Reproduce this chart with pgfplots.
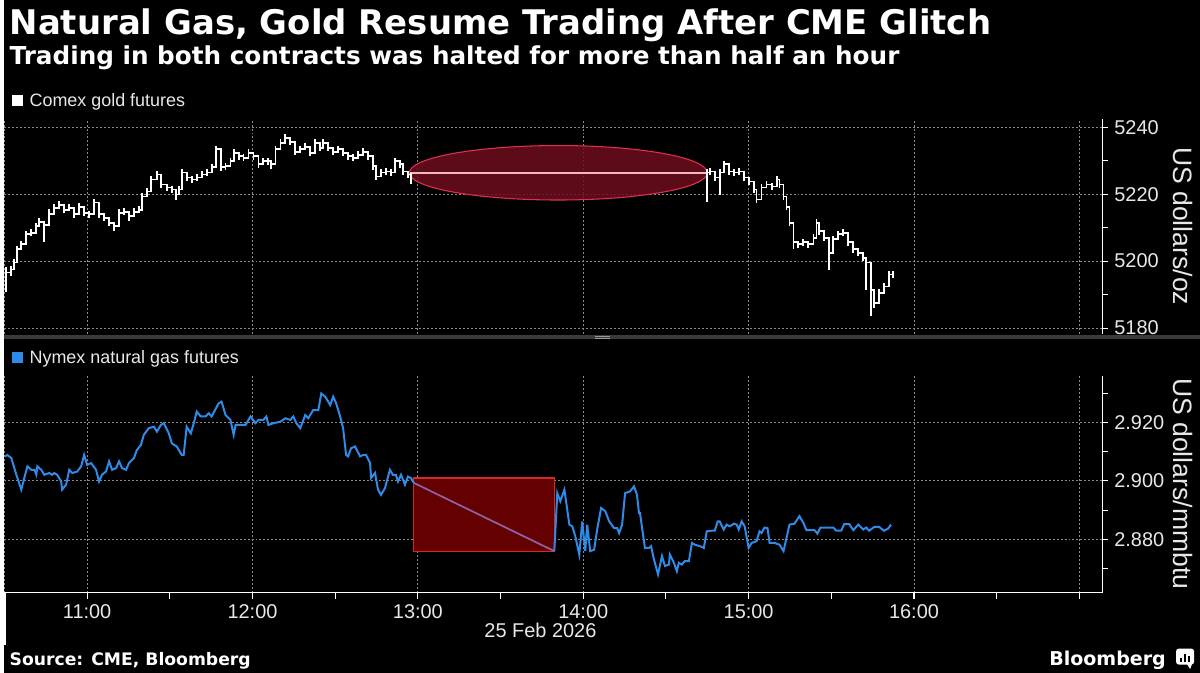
\documentclass[border=0pt]{standalone}
\usepackage{fontspec}
\setmainfont{Liberation Sans}
\newfontfamily\titlefont{DejaVu Sans}
\usepackage{pgfplots}
\usepackage{pgfplotstable}
\pgfplotsset{compat=1.18}
\definecolor{gasblue}{HTML}{2E8BE8}
\definecolor{gridc}{HTML}{8A8A8A}
\definecolor{haltfill}{HTML}{650000}
\definecolor{haltedge}{HTML}{D42A2A}
\definecolor{diag}{HTML}{8E62A8}
\definecolor{ellfill}{HTML}{6E0E1E}
\definecolor{elledge}{HTML}{E03050}
\definecolor{ellline}{HTML}{F5B5C0}
\definecolor{sepc}{HTML}{3A3A3A}
\definecolor{txt}{HTML}{E8E8E8}

\pgfplotstableread{
t c em ep
10.510 5196.6 5.9 1.5
10.540 5197.5 2.0 1.0
10.560 5199.6 1.5 1.0
10.578 5203.5 1.5 1.0
10.602 5205.0 1.0 1.0
10.633 5208.0 1.5 1.0
10.663 5208.5 1.0 1.0
10.693 5210.4 1.0 1.0
10.711 5211.8 1.0 1.0
10.741 5210.9 5.3 1.0
10.771 5214.0 1.0 1.5
10.801 5216.0 1.0 1.0
10.831 5216.9 1.0 1.0
10.861 5215.4 1.0 1.0
10.892 5216.0 1.0 1.0
10.922 5214.0 1.0 1.0
10.952 5216.3 1.0 1.0
10.982 5214.5 1.0 1.0
11.012 5214.0 1.0 1.0
11.042 5217.5 1.0 1.0
11.072 5214.0 1.0 1.0
11.102 5213.0 1.0 1.0
11.133 5211.5 1.0 1.0
11.163 5210.4 1.5 1.0
11.193 5214.5 1.0 1.0
11.223 5214.8 1.0 1.0
11.253 5213.4 1.5 1.0
11.283 5214.8 1.0 1.0
11.313 5215.4 1.0 1.0
11.331 5219.3 1.0 1.0
11.361 5220.8 1.0 1.0
11.386 5224.4 1.0 1.0
11.422 5225.9 1.0 1.0
11.446 5222.9 1.0 1.0
11.482 5222.0 1.0 1.0
11.512 5221.4 1.0 1.0
11.536 5219.9 1.5 1.0
11.554 5221.4 1.0 1.0
11.572 5226.5 1.0 1.0
11.602 5225.0 1.0 1.0
11.633 5224.4 1.0 1.0
11.663 5225.0 1.0 1.0
11.693 5225.9 1.0 1.0
11.723 5226.5 1.0 1.0
11.753 5228.0 1.0 1.0
11.777 5233.4 1.0 1.0
11.807 5228.0 1.0 1.0
11.837 5228.3 1.0 1.0
11.867 5229.8 1.0 1.0
11.886 5232.4 1.0 1.0
11.916 5231.3 1.0 1.0
11.946 5230.9 1.0 1.0
11.976 5232.4 1.0 1.0
12.006 5231.3 1.0 1.0
12.036 5228.9 1.0 1.0
12.066 5229.8 1.0 1.0
12.096 5229.8 1.0 1.0
12.114 5228.9 1.5 1.0
12.139 5233.4 1.0 1.0
12.169 5235.4 1.0 1.0
12.199 5236.9 1.0 1.0
12.229 5235.7 1.0 1.0
12.259 5232.7 1.0 1.0
12.289 5233.4 1.0 1.0
12.319 5234.2 1.0 1.0
12.349 5232.4 1.0 1.0
12.380 5235.4 1.0 1.0
12.410 5233.9 1.0 1.0
12.428 5235.4 1.0 1.0
12.458 5233.9 1.0 1.0
12.488 5232.7 1.0 1.0
12.518 5233.4 1.0 1.0
12.548 5232.4 1.0 1.0
12.578 5231.3 1.0 1.0
12.608 5230.9 1.0 1.0
12.639 5231.8 1.0 1.0
12.669 5232.7 1.0 1.0
12.699 5231.3 1.0 1.0
12.729 5228.3 1.0 1.0
12.747 5225.3 1.0 1.0
12.777 5226.5 1.0 1.0
12.807 5226.8 1.0 1.0
12.837 5226.5 1.0 1.0
12.861 5229.8 1.0 1.0
12.892 5228.9 1.0 1.0
12.910 5226.8 1.0 1.0
12.940 5225.9 1.0 1.0
12.958 5225.3 2.4 1.0
}\goldA

\pgfplotstableread{
t c em ep
14.747 5226.5 8.7 1.0
14.765 5226.8 1.0 1.0
14.795 5225.0 1.0 1.0
14.825 5226.5 6.6 1.0
14.849 5228.9 1.0 1.0
14.880 5226.8 1.0 1.0
14.910 5226.5 1.0 1.0
14.940 5226.8 1.0 1.0
14.970 5225.0 1.0 1.0
15.000 5223.8 1.0 1.0
15.030 5221.4 1.0 1.0
15.048 5218.4 1.0 1.0
15.078 5222.0 1.0 1.0
15.108 5222.9 1.0 1.0
15.139 5222.3 1.0 1.0
15.169 5224.4 1.0 1.0
15.187 5222.9 1.0 1.0
15.211 5219.3 1.0 1.0
15.229 5216.3 1.0 1.0
15.247 5211.5 1.0 1.0
15.271 5205.6 2.0 1.0
15.301 5205.0 1.0 1.0
15.331 5205.6 1.0 1.0
15.361 5205.0 1.0 1.0
15.392 5207.0 1.0 1.0
15.410 5211.5 1.0 1.0
15.428 5208.9 1.0 1.0
15.458 5207.0 1.0 1.0
15.488 5202.5 5.0 1.0
15.512 5206.5 1.0 1.0
15.542 5208.0 1.0 1.0
15.572 5208.5 1.0 1.0
15.602 5205.6 1.0 1.0
15.633 5203.5 1.0 1.0
15.663 5202.5 1.0 1.0
15.693 5201.0 1.0 1.0
15.711 5199.6 8.1 1.0
15.741 5191.5 8.0 1.0
15.759 5187.6 1.5 1.0
15.789 5190.6 1.0 1.0
15.819 5192.4 1.0 1.0
15.849 5196.0 1.0 1.0
15.873 5196.0 1.0 1.0
}\goldB

\pgfplotstableread{
t p
10.500 2.9084
10.518 2.9089
10.542 2.9078
10.572 2.9021
10.602 2.8970
10.620 2.9010
10.639 2.9050
10.663 2.9038
10.681 2.9038
10.693 2.9021
10.699 2.9050
10.723 2.9038
10.741 2.9021
10.771 2.9027
10.789 2.9021
10.801 2.9027
10.819 2.9021
10.843 2.8998
10.849 2.8970
10.873 2.8987
10.892 2.9038
10.910 2.9027
10.940 2.9032
10.964 2.9050
10.982 2.9089
11.000 2.9055
11.024 2.9061
11.054 2.9038
11.072 2.8998
11.090 2.9021
11.114 2.9032
11.133 2.9067
11.151 2.9038
11.175 2.9044
11.193 2.9067
11.211 2.9044
11.235 2.9038
11.253 2.9061
11.283 2.9078
11.301 2.9106
11.325 2.9123
11.343 2.9158
11.373 2.9181
11.404 2.9186
11.422 2.9169
11.446 2.9192
11.464 2.9198
11.494 2.9163
11.512 2.9129
11.542 2.9118
11.572 2.9089
11.584 2.9089
11.602 2.9186
11.627 2.9163
11.645 2.9198
11.663 2.9238
11.687 2.9221
11.717 2.9221
11.735 2.9232
11.753 2.9221
11.795 2.9266
11.813 2.9272
11.837 2.9226
11.867 2.9209
11.886 2.9158
11.898 2.9192
11.928 2.9192
11.958 2.9192
11.988 2.9221
12.018 2.9198
12.036 2.9209
12.066 2.9209
12.084 2.9221
12.096 2.9192
12.127 2.9198
12.169 2.9203
12.199 2.9215
12.229 2.9209
12.247 2.9221
12.265 2.9198
12.289 2.9181
12.319 2.9226
12.337 2.9215
12.367 2.9243
12.398 2.9243
12.416 2.9300
12.440 2.9289
12.470 2.9260
12.488 2.9289
12.506 2.9266
12.530 2.9221
12.548 2.9181
12.566 2.9089
12.578 2.9084
12.596 2.9112
12.620 2.9118
12.651 2.9084
12.669 2.9089
12.687 2.9089
12.711 2.9061
12.717 2.9010
12.741 2.9027
12.759 2.8970
12.777 2.8952
12.801 2.8975
12.831 2.9038
12.849 2.9021
12.867 2.9021
12.880 2.8998
12.898 2.9021
12.922 2.8987
12.940 2.9015
12.958 2.9010
12.976 2.8993
}\gasA

\pgfplotstableread{
t p
13.825 2.8759
13.843 2.8958
13.861 2.8930
13.886 2.8970
13.916 2.8850
13.934 2.8844
13.952 2.8810
13.976 2.8747
13.994 2.8861
14.012 2.8759
14.024 2.8850
14.042 2.8759
14.066 2.8764
14.084 2.8833
14.108 2.8907
14.133 2.8896
14.157 2.8861
14.187 2.8838
14.205 2.8838
14.217 2.8821
14.235 2.8850
14.253 2.8958
14.283 2.8964
14.307 2.8981
14.325 2.8952
14.337 2.8890
14.343 2.8890
14.373 2.8770
14.398 2.8770
14.410 2.8776
14.428 2.8730
14.452 2.8679
14.476 2.8742
14.494 2.8708
14.518 2.8713
14.524 2.8747
14.548 2.8719
14.566 2.8690
14.578 2.8719
14.596 2.8713
14.614 2.8725
14.639 2.8725
14.657 2.8787
14.675 2.8781
14.705 2.8776
14.729 2.8770
14.747 2.8827
14.777 2.8829
14.795 2.8829
14.813 2.8861
14.825 2.8861
14.849 2.8833
14.867 2.8850
14.886 2.8844
14.910 2.8853
14.928 2.8850
14.940 2.8833
14.958 2.8861
14.976 2.8844
15.000 2.8770
15.018 2.8787
15.048 2.8793
15.066 2.8827
15.078 2.8821
15.096 2.8840
15.114 2.8838
15.127 2.8787
15.157 2.8787
15.187 2.8781
15.211 2.8759
15.229 2.8804
15.247 2.8850
15.277 2.8853
15.307 2.8879
15.331 2.8856
15.349 2.8831
15.398 2.8831
15.416 2.8819
15.434 2.8840
15.512 2.8840
15.530 2.8829
15.560 2.8829
15.578 2.8852
15.608 2.8852
15.633 2.8831
15.663 2.8850
15.693 2.8833
15.711 2.8840
15.729 2.8829
15.759 2.8842
15.789 2.8842
15.819 2.8829
15.843 2.8836
15.861 2.8850
}\gasB

\pgfplotsset{
  bbg/.style={
    scale only axis, width=826.5pt,
    xmin=10.5, xmax=17.139,
    axis y line*=right,
    y axis line style={white, line width=0.8pt, -},
    xtick={10.5,11,12,13,14,15,16,17},
    xmajorgrids, ymajorgrids,
    grid style={gridc, line width=0.6pt, dash pattern=on 1.5pt off 1.5pt},
    ytick align=outside,
    major tick length=4.5pt, minor tick length=4.5pt,
    y tick style={white, line width=0.8pt},
    yticklabel style={txt, font=\fontsize{15pt}{17pt}\selectfont, xshift=1pt},
    /pgf/number format/assume math mode=true,
  }
}

\begin{document}
\begin{tikzpicture}
\fill[black] (0pt,0pt) rectangle (900pt,506.25pt);

% ---------- top panel: gold ----------
\begin{axis}[bbg,
  at={(0pt,255pt)}, anchor=south west, height=162pt,
  ymin=5178.3, ymax=5242.6,
  axis x line*=bottom, x axis line style={draw=none},
  xticklabels={}, x tick style={draw=none},
  ytick={5180,5200,5220,5240}, minor ytick={5190,5210,5230},
  yticklabel style={/pgf/number format/1000 sep={}},
]
\draw[elledge, line width=0.8pt, fill=ellfill, fill opacity=0.85]
  (axis cs:13.849,5226.4) ellipse [x radius=112.1pt, y radius=20.5pt];
\addplot[ellline, line width=1.6pt] coordinates {(12.952,5226.4) (14.753,5226.4)};
\addplot[white, line width=1.4pt, const plot,
  error bars/.cd, y dir=both, y explicit, error mark=none,
  error bar style={white, line width=1.4pt}]
  table[x=t, y=c, y error plus=ep, y error minus=em] {\goldA};
\addplot[white, line width=1.4pt, const plot,
  error bars/.cd, y dir=both, y explicit, error mark=none,
  error bar style={white, line width=1.4pt}]
  table[x=t, y=c, y error plus=ep, y error minus=em] {\goldB};
\end{axis}

% ---------- bottom panel: natural gas ----------
\begin{axis}[bbg,
  at={(0pt,60pt)}, anchor=south west, height=163pt,
  ymin=2.8616, ymax=2.9359,
  axis x line*=bottom,
  x axis line style={white, line width=0.8pt, -},
  xtick align=outside,
  x tick style={white, line width=0.8pt},
  xticklabels={,11:00,12:00,13:00,14:00,15:00,16:00,},
  minor xtick={11.5,12.5,13.5,14.5,15.5,16.5},
  xticklabel style={txt, font=\fontsize{15pt}{17pt}\selectfont, yshift=-1pt},
  ytick={2.88,2.90,2.92}, minor ytick={2.87,2.89,2.91,2.93},
  yticklabel style={/pgf/number format/.cd, fixed, fixed zerofill, precision=3},
]
\draw[haltedge, line width=0.8pt, fill=haltfill]
  (axis cs:12.976,2.9010) rectangle (axis cs:13.825,2.8759);
\addplot[diag, line width=1.3pt] coordinates {(12.976,2.8993) (13.825,2.8759)};
\addplot[gasblue, line width=1.5pt] table[x=t, y=p] {\gasA};
\addplot[gasblue, line width=1.5pt] table[x=t, y=p] {\gasB};
\end{axis}

\begin{scope}[x=0.75pt, y=0.75pt]
% separator
\fill[sepc] (0,334.5) rectangle (1200,339);
\draw[gray!80, line width=0.6pt] (593,337.6) -- (608,337.6);
\draw[gray!80, line width=0.6pt] (593,335.8) -- (608,335.8);
% date separator line
\draw[white, line width=0.8pt] (0.6,80) -- (0.6,28);
% titles
\node[anchor=base west, inner sep=0, white] at (5,640.5)
  {\resizebox{738.75pt}{!}{\titlefont\bfseries Natural Gas, Gold Resume Trading After CME Glitch}};
\node[anchor=base west, inner sep=0, white] at (5,610)
  {\resizebox{669.75pt}{!}{\titlefont\bfseries Trading in both contracts was halted for more than half an hour}};
% legends
\fill[white] (8,580) rectangle (19,569);
\node[anchor=base west, inner sep=0, txt, font=\fontsize{13.5pt}{16pt}\selectfont] at (25,568) {Comex gold futures};
\fill[gasblue] (8,322) rectangle (19,311);
\node[anchor=base west, inner sep=0, txt, font=\fontsize{13.5pt}{16pt}\selectfont] at (25,310) {Nymex natural gas futures};
% axis titles
\node[rotate=-90, txt, font=\fontsize{20pt}{24pt}\selectfont, inner sep=0] at (1183,448) {US dollars/oz};
\node[rotate=-90, txt, font=\fontsize{20pt}{24pt}\selectfont, inner sep=0] at (1183,189.5) {US dollars/mmbtu};
% date
\node[txt, font=\fontsize{15pt}{17pt}\selectfont, inner sep=0] at (538,42) {25 Feb 2026};
% source
\node[anchor=base west, inner sep=0, white] at (5,7)
  {\resizebox{181.5pt}{!}{\titlefont\bfseries Source: CME, Bloomberg}};
\node[anchor=base east, inner sep=0, white] at (1166,7)
  {\resizebox{87.75pt}{!}{\titlefont\bfseries Bloomberg}};
% logo icon
\fill[white, rounded corners=2] (1176,24) rectangle (1194,8);
\fill[white] (1187,8.5) -- (1192,8.5) -- (1190,3.5) -- cycle;
\fill[black] (1180,11) rectangle (1182,15);
\fill[black] (1184,11) rectangle (1186,19);
\fill[black] (1188,11) rectangle (1190,17);
\end{scope}
\end{tikzpicture}
\end{document}
